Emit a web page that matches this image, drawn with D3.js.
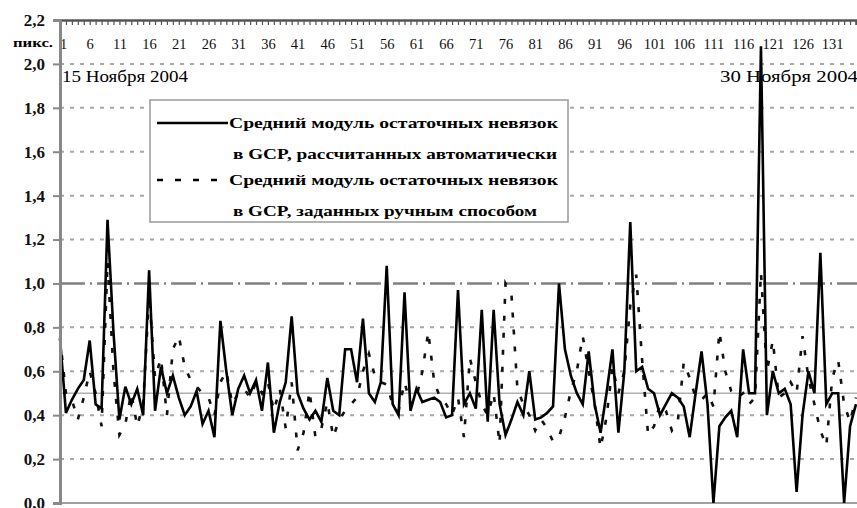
<!DOCTYPE html>
<html>
<head>
<meta charset="utf-8">
<script src="https://cdn.jsdelivr.net/npm/d3@7"></script>
<style>
  body { margin: 0; background: #fff; }
  text { font-family: "Liberation Serif", "DejaVu Serif", "Times New Roman", serif; }
</style>
</head>
<body>
<div id="chart"></div>
<script>
var width = 857,
  height = 508;

var serif = "'Liberation Serif', 'DejaVu Serif', 'Times New Roman', serif";

// номера снимков 1..135
var autoResid = [0.75,0.41,0.47,0.52,0.56,0.74,0.45,0.43,1.29,0.78,
  0.38,0.53,0.45,0.52,0.40,1.06,0.42,0.62,0.50,0.58,
  0.48,0.40,0.44,0.51,0.36,0.42,0.30,0.83,0.60,0.40,
  0.52,0.58,0.50,0.56,0.42,0.64,0.32,0.46,0.55,0.85,
  0.50,0.43,0.38,0.42,0.37,0.57,0.42,0.40,0.70,0.70,
  0.55,0.84,0.50,0.46,0.55,1.08,0.45,0.40,0.96,0.42,
  0.52,0.46,0.47,0.48,0.46,0.39,0.40,0.97,0.45,0.50,
  0.43,0.88,0.37,0.88,0.45,0.31,0.38,0.46,0.40,0.60,
  0.38,0.39,0.41,0.44,1.00,0.70,0.58,0.50,0.45,0.69,
  0.45,0.32,0.50,0.70,0.32,0.60,1.28,0.60,0.62,0.52,
  0.50,0.40,0.45,0.50,0.48,0.44,0.30,0.50,0.69,0.45,
  0.00,0.35,0.39,0.42,0.30,0.70,0.50,0.50,2.08,0.40,
  0.60,0.50,0.52,0.45,0.05,0.40,0.60,0.50,1.14,0.45,
  0.50,0.50,0.00,0.35,0.45];

var manualResid = [0.75,0.50,0.47,0.38,0.48,0.60,0.50,0.35,1.10,0.60,
  0.31,0.36,0.50,0.35,0.45,0.95,0.57,0.66,0.40,0.70,
  0.76,0.62,0.56,0.53,0.50,0.48,0.40,0.55,0.60,0.45,
  0.50,0.52,0.48,0.55,0.50,0.55,0.42,0.52,0.34,0.55,
  0.24,0.32,0.51,0.30,0.34,0.46,0.30,0.38,0.42,0.45,
  0.48,0.60,0.68,0.58,0.55,0.54,0.45,0.42,0.55,0.45,
  0.48,0.60,0.78,0.55,0.48,0.45,0.40,0.48,0.30,0.66,
  0.55,0.45,0.40,0.50,0.27,1.00,0.95,0.52,0.45,0.40,
  0.33,0.38,0.34,0.28,0.30,0.39,0.51,0.60,0.76,0.60,
  0.45,0.25,0.39,0.62,0.50,0.60,0.90,1.04,0.65,0.31,
  0.35,0.45,0.42,0.33,0.37,0.64,0.57,0.48,0.47,0.50,
  0.44,0.78,0.60,0.51,0.48,0.50,0.45,0.48,1.05,0.60,
  0.74,0.48,0.50,0.55,0.50,0.76,0.57,0.45,0.33,0.26,
  0.57,0.65,0.45,0.37,0.48];

var xTickLabels = [1,6,11,16,21,26,31,36,41,46,51,56,61,66,71,76,81,86,91,96,101,106,111,116,121,126,131];
var yTickValues = [0,0.2,0.4,0.6,0.8,1.0,1.2,1.4,1.6,1.8,2.0,2.2];
var legendLabels = [
  ["Средний модуль остаточных невязок", "в GCP, рассчитанных автоматически"],
  ["Средний модуль остаточных невязок", "в GCP, заданных ручным способом"]
];
var startLabel = "15 Ноября 2004",
  endLabel = "30 Ноября 2004",
  unitLabel = "пикс.";

var frameNums = autoResid.map(function(d, i) { return i + 1; });

var x = d3.scaleLinear()
  .domain([1, frameNums.length])
  .range([60, 856]);

var y = d3.scaleLinear()
  .domain([0, 2.2])
  .range([503, 20]);

var svg = d3.select("#chart").append("svg")
  .attr("width", width)
  .attr("height", height);

// сетка
svg.selectAll("line.grid")
  .data(yTickValues.filter(function(v) { return v > 0 && v < 2.2 && Math.abs(v - 1) > 1e-6; }))
  .enter().append("line")
  .attr("class", "grid")
  .attr("x1", 60).attr("x2", width)
  .attr("y1", function(d) { return y(d); })
  .attr("y2", function(d) { return y(d); })
  .style("stroke", "#a8a8a8")
  .style("stroke-width", 2)
  .style("stroke-dasharray", "4,6");

svg.append("line")
  .attr("x1", 60).attr("x2", width)
  .attr("y1", y(0.5)).attr("y2", y(0.5))
  .style("stroke", "#b0b0b0")
  .style("stroke-width", 1.5);

svg.append("line")
  .attr("x1", 60).attr("x2", width)
  .attr("y1", y(1)).attr("y2", y(1))
  .style("stroke", "#808080")
  .style("stroke-width", 2.5)
  .style("stroke-dasharray", "25,5,2,5");

svg.append("line")
  .attr("x1", 60).attr("x2", width)
  .attr("y1", y(0)).attr("y2", y(0))
  .style("stroke", "#a0a0a0")
  .style("stroke-width", 2);

svg.append("text")
  .attr("x", 62).attr("y", 82)
  .attr("textLength", 126)
  .attr("lengthAdjust", "spacingAndGlyphs")
  .style("font-family", serif)
  .style("font-size", "16.5px")
  .text(startLabel);

svg.append("text")
  .attr("x", 720).attr("y", 82)
  .attr("textLength", 138)
  .attr("lengthAdjust", "spacingAndGlyphs")
  .style("font-family", serif)
  .style("font-size", "16.5px")
  .text(endLabel);

var line = d3.line()
  .x(function(d, i) { return x(frameNums[i]); })
  .y(function(d) { return y(d); });

svg.append("path")
  .datum(manualResid)
  .attr("d", line)
  .style("fill", "none")
  .style("stroke", "#111")
  .style("stroke-width", 2.6)
  .style("stroke-dasharray", "5,12");

svg.append("path")
  .datum(autoResid)
  .attr("d", line)
  .style("fill", "none")
  .style("stroke", "#000")
  .style("stroke-width", 2.6)
  .style("stroke-linejoin", "miter");

// верхняя ось категорий
var xAxis = d3.axisBottom(x)
  .tickValues(frameNums)
  .tickSize(5)
  .tickPadding(14)
  .tickFormat(function(d) { return xTickLabels.indexOf(d) >= 0 ? d : ""; });

var gx = svg.append("g")
  .attr("transform", "translate(0,20)")
  .call(xAxis);
gx.select(".domain").style("stroke", "#555").style("stroke-width", 2.5);
gx.selectAll(".tick line").style("stroke", "#555").style("stroke-width", 1.2);
gx.selectAll(".tick text")
  .attr("dx", function(d) { return d === 1 ? 3 : 0; })
  .style("font-family", serif)
  .style("font-size", "14.5px")
  .style("fill", "#111");

var yAxis = d3.axisLeft(y)
  .tickValues(yTickValues)
  .tickSize(7)
  .tickPadding(8)
  .tickFormat(function(d) { return d3.format(".1f")(d).replace(".", ","); });

var gy = svg.append("g")
  .attr("transform", "translate(60,0)")
  .call(yAxis);
gy.select(".domain").style("stroke", "#888").style("stroke-width", 3);
gy.selectAll(".tick line").style("stroke", "#888").style("stroke-width", 2);
gy.selectAll(".tick text")
  .style("font-family", serif)
  .style("font-weight", "bold")
  .style("font-size", "17px")
  .style("fill", "#111");

svg.append("text")
  .attr("x", 13).attr("y", 47)
  .attr("textLength", 40)
  .attr("lengthAdjust", "spacingAndGlyphs")
  .style("font-family", serif)
  .style("font-size", "12px")
  .style("font-weight", "bold")
  .text(unitLabel);

// легенда
var legend = svg.append("g").attr("class", "legend");
legend.append("rect")
  .attr("x", 150).attr("y", 100)
  .attr("width", 418).attr("height", 122)
  .style("fill", "#fff")
  .style("stroke", "#999")
  .style("stroke-width", 1.5);

var rowY = [123, 180];
legendLabels.forEach(function(lbl, k) {
  legend.append("line")
    .attr("x1", 157).attr("x2", 228)
    .attr("y1", rowY[k]).attr("y2", rowY[k])
    .style("stroke", "#000")
    .style("stroke-width", 2.6)
    .style("stroke-dasharray", k === 0 ? null : "6,12");
  legend.append("text")
    .attr("x", 229).attr("y", rowY[k] + 5)
    .attr("textLength", 329)
    .attr("lengthAdjust", "spacingAndGlyphs")
    .style("font-family", serif)
    .style("font-size", "15px")
    .style("font-weight", "bold")
    .text(lbl[0]);
  legend.append("text")
    .attr("x", 233).attr("y", rowY[k] + 36)
    .attr("textLength", k === 0 ? 324 : 304)
    .attr("lengthAdjust", "spacingAndGlyphs")
    .style("font-family", serif)
    .style("font-size", "15px")
    .style("font-weight", "bold")
    .text(lbl[1]);
});
</script>
</body>
</html>
